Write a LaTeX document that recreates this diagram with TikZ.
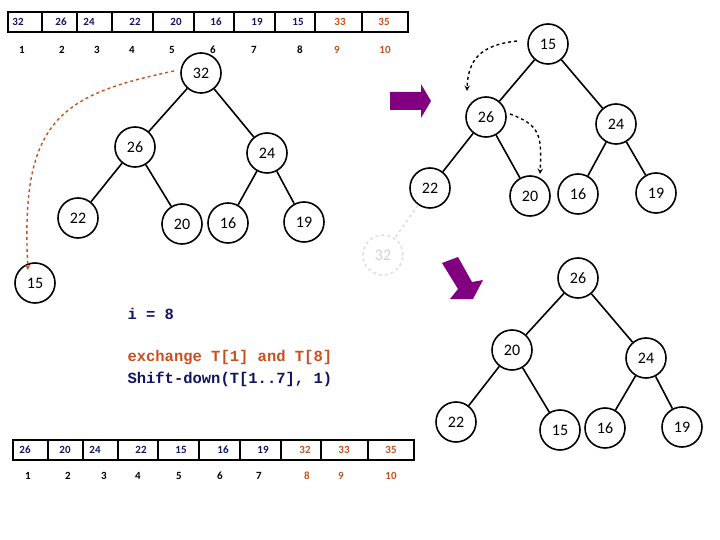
\documentclass[tikz,border=0pt]{standalone}
\usepackage{fontspec}
\setmainfont{Carlito}
\setmonofont{Liberation Mono}
\usetikzlibrary{arrows}
\definecolor{navy}{RGB}{20,20,100}
\definecolor{rust}{RGB}{200,80,30}
\definecolor{plum}{RGB}{128,0,128}
\tikzset{
  hnode/.style={circle, draw, line width=1.6pt, minimum size=40pt, inner sep=0pt, font=\fontsize{16}{18}\selectfont},
  ghost/.style={circle, draw=gray!25, dashed, line width=1.6pt, minimum size=40pt, inner sep=0pt, font=\fontsize{16}{18}\selectfont, text=gray!35},
  edge/.style={line width=1.6pt},
  cell/.style={font=\bfseries\fontsize{11}{12}\selectfont, text=navy},
  idx/.style={font=\bfseries\fontsize{11}{12}\selectfont},
  code/.style={anchor=west, font=\ttfamily\bfseries\fontsize{15.5}{18}\selectfont},
}
\begin{document}
\begin{tikzpicture}[>=stealth, x=1pt, y=-1pt]
  \useasboundingbox (0,0) rectangle (720,540);
  % top array
  \draw[line width=1.6pt] (8,12) rectangle (408,32);
  \foreach \b in {42,77,112,153,194,234,275,315,362} \draw[line width=1.6pt] (\b,12) -- (\b,32);
  \foreach \x/\v/\c in {18/32/navy,61/26/navy,89/24/navy,135/22/navy,176/20/navy,216/16/navy,257/19/navy,298/15/navy,340/33/rust,384/35/rust}
    \node[cell, text=\c] at (\x,22) {\v};
  \foreach \x/\v/\c in {22/1/black,62/2/black,97/3/black,132/4/black,172/5/black,213/6/black,254/7/black,300/8/black,337/9/rust,385/10/rust}
    \node[idx, text=\c] at (\x,50) {\v};
  % bottom array
  \draw[line width=1.6pt] (13,440) rectangle (414,460);
  \foreach \b in {48,83,118,158,199,240,281,321,368} \draw[line width=1.6pt] (\b,440) -- (\b,460);
  \foreach \x/\v/\c in {25/26/navy,65/20/navy,95/24/navy,141/22/navy,181/15/navy,223/16/navy,263/19/navy,305/32/rust,344/33/rust,391/35/rust}
    \node[cell, text=\c] at (\x,450) {\v};
  \foreach \x/\v/\c in {28/1/black,68/2/black,104/3/black,138/4/black,179/5/black,220/6/black,259/7/black,307/8/rust,341/9/rust,391/10/rust}
    \node[idx, text=\c] at (\x,476) {\v};
  % left tree
  \node[hnode] (l1) at (201,73) {32};
  \node[hnode] (l2) at (135,147) {26};
  \node[hnode] (l3) at (267,153) {24};
  \node[hnode] (l4) at (78,218) {22};
  \node[hnode] (l5) at (182,224) {20};
  \node[hnode] (l6) at (228,223) {16};
  \node[hnode] (l7) at (304,222) {19};
  \node[hnode] (l8) at (35,283) {15};
  \draw[edge] (l1) -- (l2) (l1) -- (l3) (l2) -- (l4) (l2) -- (l5) (l3) -- (l6) (l3) -- (l7);
  \draw[->, line width=1.4pt, dashed, rust] (174,71) .. controls (60,95) and (20,120) .. (28,270);
  % top right tree
  \node[hnode] (a1) at (548,44) {15};
  \node[hnode] (a2) at (486,117) {26};
  \node[hnode] (a3) at (616,124) {24};
  \node[hnode] (a4) at (430,188) {22};
  \node[hnode] (a5) at (530,196) {20};
  \node[hnode] (a6) at (578,194) {16};
  \node[hnode] (a7) at (656,193) {19};
  \node[ghost] (a8) at (383,255) {32};
  \draw[edge] (a1) -- (a2) (a1) -- (a3) (a2) -- (a4) (a2) -- (a5) (a3) -- (a6) (a3) -- (a7);
  \draw[edge, dashed, gray!25] (a4) -- (a8);
  \draw[->, line width=1.4pt, dashed] (517,41) .. controls (480,45) and (468,60) .. (467,91);
  \draw[->, line width=1.4pt, dashed] (510,114) .. controls (540,125) and (542,135) .. (540,174);
  % purple arrows
  \fill[plum] (390,92) -- (421,92) -- (421,84) -- (431,101) -- (421,118) -- (421,110) -- (390,110) -- cycle;
  \fill[plum] (442,263) -- (458,257) -- (472,282) -- (483,280) -- (473,299) -- (450,299) -- (458,289) -- cycle;
  % lower tree
  \node[hnode] (b1) at (578,278) {26};
  \node[hnode] (b2) at (512,350) {20};
  \node[hnode] (b3) at (646,358) {24};
  \node[hnode] (b4) at (456,422) {22};
  \node[hnode] (b5) at (560,430) {15};
  \node[hnode] (b6) at (605,428) {16};
  \node[hnode] (b7) at (682,427) {19};
  \draw[edge] (b1) -- (b2) (b1) -- (b3) (b2) -- (b4) (b2) -- (b5) (b3) -- (b6) (b3) -- (b7);
  % text
  \node[code, text=navy] (iv) at (124,314) {i = 8};
  \node[code, text=rust] (ex) at (124,358) {exchange T[1] and T[8]};
  \node[code, text=navy] (sd) at (124,379) {Shift-down(T[1..7], 1)};
\end{tikzpicture}
\end{document}
